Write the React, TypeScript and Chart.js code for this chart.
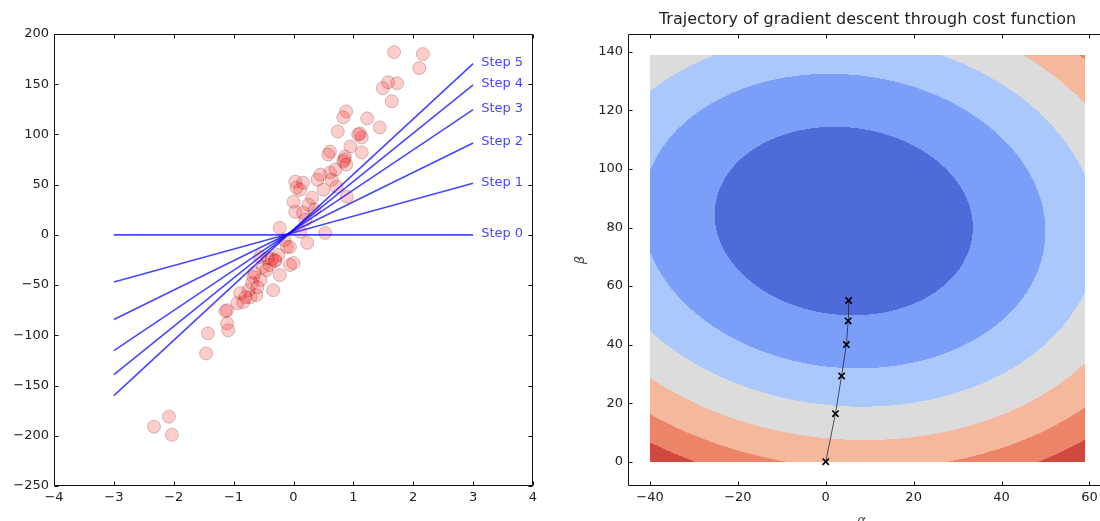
import React, { useEffect, useRef } from "react";
import { Chart, registerables } from "chart.js";

Chart.register(...registerables);

const FONT = "'DejaVu Sans', 'Liberation Sans', sans-serif";

// ---------- left panel: data points ----------
const scatterX = [
  1.68, 2.16, 2.1, 1.58, 1.73, 1.49, 1.64,
  0.88, 0.83, 1.23, 1.44, 0.74, 1.11, 1.14, 1.08,
  0.86, 1.14, 0.61, 0.58, 0.83, 0.88, 0.61, 0.4, 0.64,
  0.03, 0.11, 0.31, 0.89, 0.0, 0.03, 0.16, 0.25, 0.05, 0.16,
  -0.23, 0.53, 0.23, -0.11, 0.11, -0.06,
  -0.31, -0.36, -0.43, 0.0, -0.06, -0.23, -0.51,
  -0.67, -0.65, -0.69, -0.34, -0.89, -0.72, -0.84,
  -0.94, -0.62, -1.11, -1.14, -1.11, -1.09, -1.43,
  -1.46, -2.08, -2.33, -2.03, -0.56, -0.25,
  0.45, 0.7, 0.95, 0.5, 0.2, -0.15, -0.4, -0.55, -0.75, -0.8, -0.6, -0.45, 0.35, 0.72, 0.85, -0.3,
];
const scatterY = [
  182, 180, 166, 152, 151, 146, 133,
  123, 117, 116, 107, 103, 101, 97, 100,
  78, 82, 83, 80, 73, 70, 62, 55, 55,
  53, 45, 37, 38, 33, 23, 22, 30, 47, 52,
  7, 2, -8, -12, 3, -12,
  -25, -24, -23, -28, -30, -40, -32,
  -42, -38, -48, -55, -58, -62, -67,
  -68, -60, -75, -76, -88, -95, -98,
  -118, -181, -191, -199, -22, -20,
  60, 65, 88, 45, 15, -5, -30, -45, -55, -62, -52, -35, 25, 48, 75, -26,
];

// gradient descent steps: intercept (alpha) and slope (beta)
const stepNames = ["Step 0", "Step 1", "Step 2", "Step 3", "Step 4", "Step 5"];
const stepAlpha = [0, 2.2, 3.6, 4.7, 5.1, 5.2];
const stepBeta = [0, 16.4, 29.3, 40.0, 48.1, 55.1];
const lineEndsX = [-3, 3];

const leftXTicks = [-4, -3, -2, -1, 0, 1, 2, 3, 4];
const leftYTicks = [-250, -200, -150, -100, -50, 0, 50, 100, 150, 200];

// ---------- right panel: cost surface ----------
const rightXTicks = [-40, -20, 0, 20, 40, 60];
const rightYTicks = [0, 20, 40, 60, 80, 100, 120, 140];
const gridAlphaRange = [-40, 59];
const gridBetaRange = [0, 139];
const costMin = [4.1, 82.2]; // alpha, beta at the minimum
const costCross = 0.064;
const costVar = 0.828;
const costLevels = [858, 2095, 3328, 4633, 5934, 7124];
const costColors = ["#4f6bd9", "#7b9ff9", "#abc8fd", "#dcdcdd", "#f6b89c", "#ec8468", "#d0493f"];

const titleText = "Trajectory of gradient descent through cost function";

const minus = (v: number | string) => String(v).replace("-", "\u2212");

function fixedTicks(values: number[]) {
  return (scale: any) => {
    scale.ticks = values.map((v) => ({ value: v }));
  };
}

function axis(min: number, max: number, ticks: number[], size: number, isY: boolean) {
  return {
    type: "linear" as const,
    min,
    max,
    afterBuildTicks: fixedTicks(ticks),
    afterFit: (s: any) => {
      if (isY) s.width = size;
      else s.height = size;
    },
    grid: { display: false, drawTicks: false },
    border: { display: false },
    ticks: {
      font: { family: FONT, size: 13 },
      color: "#222",
      padding: isY ? 5 : 4,
      maxRotation: 0,
      autoSkip: false,
      callback: (v: any) => minus(v),
    },
  };
}

const framePlugin = {
  id: "mplFrame",
  afterDraw(chart: any, _args: any, opts: any) {
    const { ctx, chartArea: a } = chart;
    const xs = chart.scales.x;
    const ys = chart.scales.y;
    ctx.save();
    ctx.strokeStyle = "#111";
    ctx.lineWidth = 1;
    const L = Math.round(a.left) + 0.5;
    const R = Math.round(a.right) - 0.5;
    const T = Math.round(a.top) + 0.5;
    const B = Math.round(a.bottom) - 0.5;
    ctx.beginPath();
    ctx.moveTo(R, T);
    ctx.lineTo(L, T);
    ctx.lineTo(L, B);
    ctx.lineTo(R, B);
    if (!opts.openRight) ctx.lineTo(R, T);
    for (const t of opts.xTicks) {
      const p = Math.round(xs.getPixelForValue(t)) + 0.5;
      ctx.moveTo(p, B);
      ctx.lineTo(p, B - 4);
      ctx.moveTo(p, T);
      ctx.lineTo(p, T + 4);
    }
    for (const t of opts.yTicks) {
      const p = Math.round(ys.getPixelForValue(t)) + 0.5;
      ctx.moveTo(L, p);
      ctx.lineTo(L + 4, p);
      if (!opts.openRight) {
        ctx.moveTo(R, p);
        ctx.lineTo(R - 4, p);
      }
    }
    ctx.stroke();
    ctx.restore();
  },
};

const stepLabelPlugin = {
  id: "stepLabels",
  afterDatasetsDraw(chart: any) {
    const { ctx } = chart;
    const xs = chart.scales.x;
    const ys = chart.scales.y;
    ctx.save();
    ctx.font = `13px ${FONT}`;
    ctx.fillStyle = "rgba(0,0,255,0.75)";
    ctx.textBaseline = "middle";
    ctx.textAlign = "left";
    const xEnd = lineEndsX[1];
    stepNames.forEach((name, k) => {
      const px = xs.getPixelForValue(xEnd) + 8;
      const py = ys.getPixelForValue(stepAlpha[k] + stepBeta[k] * xEnd) - 1;
      ctx.fillText(name, px, py);
    });
    ctx.restore();
  },
};

function hexToRgb(h: string) {
  const n = parseInt(h.slice(1), 16);
  return [(n >> 16) & 255, (n >> 8) & 255, n & 255];
}

function cost(a: number, b: number) {
  const da = a - costMin[0];
  const db = b - costMin[1];
  const u = da + costCross * db;
  return u * u + costVar * db * db;
}

const contourPlugin = {
  id: "contour",
  beforeDatasetsDraw(chart: any) {
    const { ctx } = chart;
    const xs = chart.scales.x;
    const ys = chart.scales.y;
    const x0 = Math.round(xs.getPixelForValue(gridAlphaRange[0]));
    const x1 = Math.round(xs.getPixelForValue(gridAlphaRange[1]));
    const y0 = Math.round(ys.getPixelForValue(gridBetaRange[1]));
    const y1 = Math.round(ys.getPixelForValue(gridBetaRange[0]));
    const w = x1 - x0;
    const h = y1 - y0;
    if (w <= 0 || h <= 0) return;
    const off = document.createElement("canvas");
    off.width = w;
    off.height = h;
    const octx = off.getContext("2d")!;
    const img = octx.createImageData(w, h);
    const rgb = costColors.map(hexToRgb);
    for (let j = 0; j < h; j++) {
      const b = ys.getValueForPixel(y0 + j + 0.5);
      for (let i = 0; i < w; i++) {
        const a = xs.getValueForPixel(x0 + i + 0.5);
        const q = cost(a, b);
        let k = 0;
        while (k < costLevels.length && q > costLevels[k]) k++;
        const c = rgb[Math.min(k, rgb.length - 1)];
        const idx = (j * w + i) * 4;
        img.data[idx] = c[0];
        img.data[idx + 1] = c[1];
        img.data[idx + 2] = c[2];
        img.data[idx + 3] = 255;
      }
    }
    octx.putImageData(img, 0, 0);
    ctx.drawImage(off, x0, y0);
  },
};

const rightTextPlugin = {
  id: "rightText",
  afterDraw(chart: any) {
    const { ctx, chartArea: a } = chart;
    const cx = (a.left + a.right) / 2;
    const cy = (a.top + a.bottom) / 2;
    ctx.save();
    ctx.fillStyle = "#222";
    ctx.font = `16px ${FONT}`;
    ctx.textAlign = "center";
    ctx.textBaseline = "middle";
    ctx.fillText(titleText, cx, 20);
    ctx.font = `italic 13px ${FONT}`;
    ctx.fillStyle = "#444";
    ctx.textBaseline = "top";
    ctx.fillText("\u03b1", cx - 6, 514);
    ctx.translate(21, cy);
    ctx.rotate(-Math.PI / 2);
    ctx.textBaseline = "middle";
    ctx.fillText("\u03b2", 0, 0);
    ctx.restore();
  },
};

function leftConfig(): any {
  return {
    type: "scatter",
    data: {
      datasets: [
        {
          data: scatterX.map((x, i) => ({ x, y: scatterY[i] })),
          pointRadius: 6.5,
          backgroundColor: "rgba(255,0,0,0.2)",
          borderColor: "rgba(60,0,0,0.22)",
          borderWidth: 1,
          order: 2,
        },
        ...stepAlpha.map((a, k) => ({
          data: lineEndsX.map((x) => ({ x, y: a + stepBeta[k] * x })),
          showLine: true,
          pointRadius: 0,
          borderColor: "rgba(0,0,255,0.72)",
          borderWidth: 1.6,
          order: 1,
        })),
      ],
    },
    options: {
      animation: false,
      responsive: false,
      maintainAspectRatio: false,
      devicePixelRatio: 1,
      events: [],
      layout: { padding: { left: 0, right: 27, top: 34, bottom: 0 } },
      scales: {
        x: axis(-4, 4, leftXTicks, 35, false),
        y: axis(-250, 200, leftYTicks, 54, true),
      },
      plugins: {
        legend: { display: false },
        tooltip: { enabled: false },
        mplFrame: { xTicks: leftXTicks, yTicks: leftYTicks, openRight: false },
      },
    },
    plugins: [framePlugin, stepLabelPlugin],
  };
}

function rightConfig(): any {
  return {
    type: "scatter",
    data: {
      datasets: [
        {
          data: stepAlpha.map((a, i) => ({ x: a, y: stepBeta[i] })),
          showLine: true,
          borderColor: "rgba(30,30,50,0.75)",
          borderWidth: 1,
          pointStyle: "crossRot",
          pointRadius: 4.5,
          pointBorderWidth: 1.6,
          pointBorderColor: "#000",
          pointBackgroundColor: "#000",
        },
      ],
    },
    options: {
      animation: false,
      responsive: false,
      maintainAspectRatio: false,
      devicePixelRatio: 1,
      events: [],
      layout: { padding: { left: 0, right: 53, top: 34, bottom: 0 } },
      scales: {
        x: axis(-45, 64, rightXTicks, 35, false),
        y: axis(-8.3, 146.1, rightYTicks, 68, true),
      },
      plugins: {
        legend: { display: false },
        tooltip: { enabled: false },
        mplFrame: { xTicks: rightXTicks, yTicks: rightYTicks, openRight: true },
      },
    },
    plugins: [contourPlugin, framePlugin, rightTextPlugin],
  };
}

export default function App() {
  const leftRef = useRef<HTMLCanvasElement>(null);
  const rightRef = useRef<HTMLCanvasElement>(null);
  useEffect(() => {
    const c1 = new Chart(leftRef.current!, leftConfig());
    const c2 = new Chart(rightRef.current!, rightConfig());
    return () => {
      c1.destroy();
      c2.destroy();
    };
  }, []);
  return (
    <div
      style={{
        position: "absolute",
        left: 0,
        top: 0,
        width: 1100,
        height: 521,
        overflow: "hidden",
        background: "#fff",
      }}
    >
      <canvas
        ref={leftRef}
        width={560}
        height={521}
        style={{ position: "absolute", left: 0, top: 0, width: 560, height: 521 }}
      />
      <canvas
        ref={rightRef}
        width={600}
        height={521}
        style={{ position: "absolute", left: 560, top: 0, width: 600, height: 521 }}
      />
    </div>
  );
}
